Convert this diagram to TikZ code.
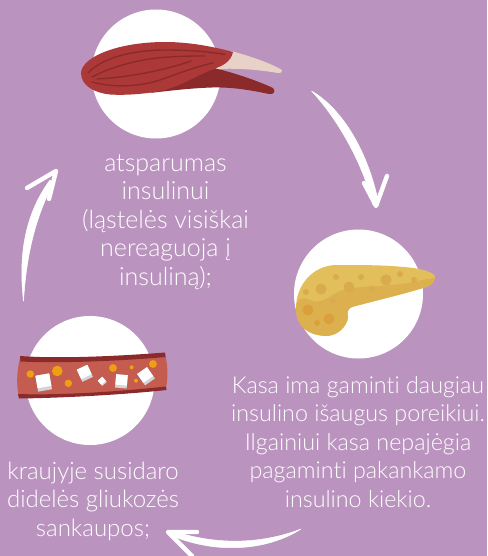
\documentclass[tikz,border=0pt]{standalone}
\usepackage{fontspec}
\setmainfont[Ligatures=CommonOff]{Lato Light}
\definecolor{bgpurple}{HTML}{BA94BF}
\definecolor{belly}{HTML}{AC3938}
\definecolor{muscledark}{HTML}{8B2A2A}
\definecolor{tendon}{HTML}{E8D2C8}
\definecolor{panclight}{HTML}{E3BF5C}
\definecolor{pancdark}{HTML}{DCB04F}
\definecolor{pancspot}{HTML}{D9AB4F}
\definecolor{pancdeep}{HTML}{D9A03C}
\definecolor{vessel}{HTML}{C55C50}
\definecolor{fat}{HTML}{EFA012}
\definecolor{cubeside}{HTML}{D4D4D6}
\tikzset{
  disc/.style={circle,fill=white,minimum size=129pt,inner sep=0pt,draw=none},
  caption/.style={text=white,font=\fontsize{#1}{28.5}\selectfont,align=center,inner sep=0pt},
  fibre/.style={draw=muscledark,line width=1.4pt,line cap=round},
  sweep/.style={fill=white,draw=white,line width=.5pt,line join=round},
  barb/.style={draw=white,line width=4.4pt,line cap=round,line join=round}
}
% sugar cube: white face with a grey lower side
\newcommand{\sugarcube}[4]{%
  \begin{scope}[shift={(#1,#2)},rotate=#4]
    \fill[cubeside] (-#3,-#3) -- (#3,-#3) -- (#3,#3*1.3) -- (-#3,#3*1.3) -- cycle;
    \fill[white] (-#3,-#3) -- (#3,-#3) -- (#3,#3*.8) -- (-#3,#3*.8) -- cycle;
  \end{scope}}
\begin{document}
\begin{tikzpicture}[x=1pt,y=-1pt]
\useasboundingbox (0,0) rectangle (487,556);
\fill[bgpurple] (0,0) rectangle (487,556);

\node[disc] (muscledisc) at (156,74) {};
\node[disc] (pancdisc) at (358.5,294) {};
\node[disc] (vesseldisc) at (90,380.5) {};

% muscle with tendons
\fill[tendon] (231,51) .. controls (250,56) and (270,63) .. (282,70)
  .. controls (283,72) and (281,73) .. (278,73)
  .. controls (260,70) and (240,68) .. (218,69) -- cycle;
\fill[muscledark] (214,68) .. controls (235,73) and (258,81) .. (273,88)
  .. controls (276,91) and (274,95) .. (269,94)
  .. controls (250,90) and (232,87) .. (212,87.5)
  .. controls (195,88) and (175,90) .. (150,93) -- cycle;
\fill[belly] (81,73) .. controls (82,56) and (120,42) .. (165,42)
  .. controls (190,42) and (215,47) .. (233,52)
  .. controls (231,62) and (222,66) .. (214,69)
  .. controls (195,76) and (180,87) .. (160,91)
  .. controls (145,94) and (125,95.5) .. (110,94.5)
  .. controls (95,93) and (81,86) .. (81,73) -- cycle;
\draw[fibre] (88,73) .. controls (105,55) and (140,50) .. (165,50) .. controls (185,50) and (205,51) .. (225,54.5);
\draw[fibre] (92,77) .. controls (115,65) and (145,58) .. (170,57) .. controls (182,56) and (195,56) .. (205,56);
\draw[fibre] (97,79) .. controls (120,78) and (160,72) .. (191,61);
\draw[fibre] (92,82) .. controls (110,87) and (135,88) .. (160,80) .. controls (180,73) and (198,66) .. (213,63);

% pancreas
\fill[panclight] (296,308) .. controls (296,285) and (313,265) .. (337,265)
  .. controls (360,265) and (385,265) .. (403,267)
  .. controls (420,268) and (436,272) .. (435,278)
  .. controls (434,284) and (428,287) .. (423,288)
  .. controls (400,295) and (370,302) .. (352,307)
  .. controls (347,309) and (347,313) .. (348,317)
  .. controls (347,327) and (337,336) .. (326,336)
  .. controls (306,335) and (296,325) .. (296,308) -- cycle;
\fill[pancdark] (296,308) .. controls (297,297) and (303,297) .. (310,300)
  .. controls (320,305) and (328,297) .. (340,291)
  .. controls (360,284) and (395,288) .. (422,280)
  .. controls (428,279) and (433,278) .. (435,278)
  .. controls (434,284) and (428,287) .. (423,288)
  .. controls (400,295) and (370,302) .. (352,307)
  .. controls (347,309) and (347,313) .. (348,317)
  .. controls (347,327) and (337,336) .. (326,336)
  .. controls (306,335) and (296,325) .. (296,308) -- cycle;
\foreach \cx/\cy/\cr in {321/289/5.6,349/287/5.4,386/280/5.6,336/277/3,361/277/3,400/274/3,414/280/3,372/289/2.7,333/301/2.7,306/292/3}
  \fill[pancspot] (\cx,\cy) circle (\cr);
\foreach \cx/\cy/\cr in {308/310/5.6,329/319/5.4}
  \fill[pancdeep] (\cx,\cy) circle (\cr);
\fill[pancdeep] (317,323) circle (2.9);

% blood vessel with glucose and fat
\fill[vessel] (20,358) .. controls (60,362) and (120,358) .. (165,354)
  .. controls (168,365) and (168,378) .. (166,388)
  .. controls (120,394) and (60,398) .. (19,397)
  .. controls (16,385) and (17,370) .. (20,358) -- cycle;
\fill[muscledark] (20,356) .. controls (60,359) and (120,356) .. (165,352.5)
  -- (165.5,357) .. controls (120,361) and (60,363.5) .. (20.5,361.5) -- cycle;
\fill[muscledark] (18,394) .. controls (60,395.5) and (120,391.5) .. (166,386.5)
  -- (166.5,390) .. controls (120,395) and (60,398) .. (19,398.5) -- cycle;
\foreach \cx/\cy/\cr in {30.3/374/3.7,57.3/371/5.3,68.3/383.3/3.7,113/368/3.9,131.7/367.3/2,153/364/3.9,136/380.7/2}
  \fill[fat] (\cx,\cy) circle (\cr);
\sugarcube{43.5}{381.5}{7}{10}
\sugarcube{84.5}{372.5}{5.8}{25}
\sugarcube{102}{381}{3}{40}
\sugarcube{121.5}{380.5}{5.8}{-5}
\sugarcube{145.5}{375.5}{6}{35}

% cycle arrows: tapering shafts with brush-like barbs
\coordinate (rightstart) at (311.5,91);
\coordinate (righttip) at (376,206);
\coordinate (leftstart) at (23.5,301);
\coordinate (lefttip) at (56,171);
\coordinate (lowstart) at (301,529);
\coordinate (lowtip) at (168,532);

\fill[sweep] (rightstart) .. controls (338,106) and (367,145) .. (379,205)
  -- (373,205) .. controls (362,160) and (335,116) .. cycle;
\draw[barb] (364,183) -- (righttip) -- (387,176);

\fill[sweep] (leftstart) .. controls (19,262) and (22,218) .. (50,180)
  -- (53,184) .. controls (33,222) and (26,262) .. cycle;
\draw[barb] (27,188) -- (lefttip) -- (49,199);

\fill[sweep] (lowstart) .. controls (270,541) and (225,548) .. (173,531)
  -- (170,535) .. controls (220,556) and (270,549) .. cycle;
\draw[barb] (197,532) -- (lowtip) -- (192,556);

% captions
\node[caption=25] (resist) at (165.5,222) {atsparumas\\insulinui\\(ląstelės visiškai\\nereaguoja į\\insuliną);};
\node[caption=23.3] (pancreas) at (358,442) {Kasa ima gaminti daugiau\\insulino išaugus poreikiui.\\Ilgainiui kasa nepajėgia\\pagaminti pakankamo\\insulino kiekio.};
\node[caption=24] (glucose) at (93,501) {kraujyje susidaro\\didelės gliukozės\\sankaupos;};
\end{tikzpicture}
\end{document}
